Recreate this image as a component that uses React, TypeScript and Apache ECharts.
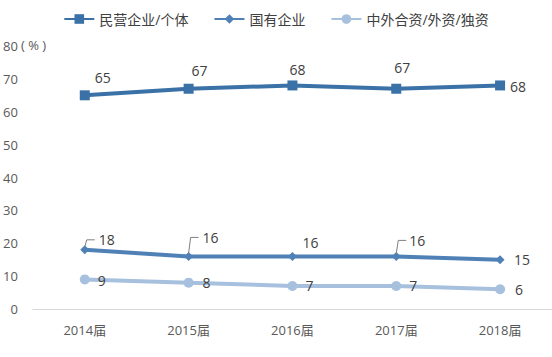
import React, { useEffect, useRef } from "react";
import * as echarts from "echarts";

const categories = ["2014届", "2015届", "2016届", "2017届", "2018届"];
const seriesNames = ["民营企业/个体", "国有企业", "中外合资/外资/独资"];
const privateValues = [65, 67, 68, 67, 68];
const stateValues = [18, 16, 16, 16, 15];
const foreignValues = [9, 8, 7, 7, 6];
const yTicks = [0, 10, 20, 30, 40, 50, 60, 70, 80];

const FONT = "'Open Sans', 'Noto Sans CJK SC', sans-serif";
const C1 = "#3a71a7";
const C2 = "#4f81b6";
const C3 = "#a6c0de";

export default function App() {
  const ref = useRef<HTMLDivElement>(null);
  useEffect(() => {
    if (!ref.current) return;
    const chart = echarts.init(ref.current, undefined, { renderer: "svg" });
    const lbl = (offsets: number[][]) => (vals: number[]) =>
      vals.map((v, i) => ({
        value: v,
        label: { offset: offsets[i] },
      }));
    const off1 = [[18, -18], [11, -18], [5, -16], [6, -21], [18, 1]];
    const off2 = [[22, -10], [22, -19], [18, -14], [21, -16], [22, 0]];
    const off3 = [[17, 1], [18, 0], [17, 0], [17, 0], [19, 0]];
    const leaderH: Record<number, number> = { 0: 10, 1: 19, 3: 16 };
    const labelStyle = {
      show: true,
      position: "inside" as const,
      color: "#404040",
      fontSize: 14,
      fontFamily: FONT,
    };
    chart.setOption({
      animation: false,
      textStyle: { fontFamily: FONT },
      legend: {
        top: 7,
        left: "center",
        itemWidth: 30,
        itemHeight: 12,
        itemGap: 25,
        textStyle: { fontSize: 14, color: "#404040", fontFamily: FONT },
        data: seriesNames,
      },
      grid: { left: 30, right: -9, top: 46, bottom: 48 },
      xAxis: {
        type: "category",
        data: categories,
        axisLine: { lineStyle: { color: "#d9d9d9", width: 1 } },
        axisTick: { show: false },
        axisLabel: { color: "#595959", fontSize: 13, margin: 14, fontFamily: FONT },
      },
      yAxis: {
        type: "value",
        min: yTicks[0],
        max: yTicks[yTicks.length - 1],
        interval: 10,
        splitLine: { show: false },
        axisLine: { show: false },
        axisTick: { show: false },
        axisLabel: { color: "#595959", fontSize: 13, margin: 15, fontFamily: FONT },
      },
      graphic: [
        {
          type: "text",
          left: 21,
          top: 38,
          style: { text: "( % )", fontSize: 13, fill: "#595959", fontFamily: FONT },
        },
      ],
      series: [
        {
          name: seriesNames[0],
          type: "line",
          data: lbl(off1)(privateValues),
          symbol: "rect",
          symbolSize: 10,
          lineStyle: { color: C1, width: 4 },
          itemStyle: { color: C1 },
          label: labelStyle,
          z: 3,
        },
        {
          name: seriesNames[1],
          type: "line",
          data: lbl(off2)(stateValues),
          symbol: "diamond",
          symbolSize: 9,
          lineStyle: { color: C2, width: 4 },
          itemStyle: { color: C2 },
          label: labelStyle,
          z: 3,
        },
        {
          name: seriesNames[2],
          type: "line",
          data: lbl(off3)(foreignValues),
          symbol: "circle",
          symbolSize: 10,
          lineStyle: { color: C3, width: 4 },
          itemStyle: { color: C3 },
          label: labelStyle,
          z: 3,
        },
        {
          type: "custom",
          silent: true,
          z: 4,
          data: stateValues.map((v, i) => [i, v]),
          renderItem: (params: any, api: any) => {
            const i = params.dataIndex;
            const h = leaderH[i];
            if (h === undefined) return null;
            const p = api.coord([api.value(0), api.value(1)]);
            return {
              type: "polyline",
              shape: {
                points: [
                  [p[0], p[1] - 3],
                  [p[0] + 2, p[1] - h],
                  [p[0] + 10, p[1] - h],
                ],
              },
              style: { stroke: "#7f7f7f", lineWidth: 1, fill: "none" },
            };
          },
        },
      ],
    });
    return () => chart.dispose();
  }, []);
  return (
    <div
      ref={ref}
      style={{ position: "fixed", left: 0, top: 0, width: 552, height: 357, background: "#fff" }}
    />
  );
}
